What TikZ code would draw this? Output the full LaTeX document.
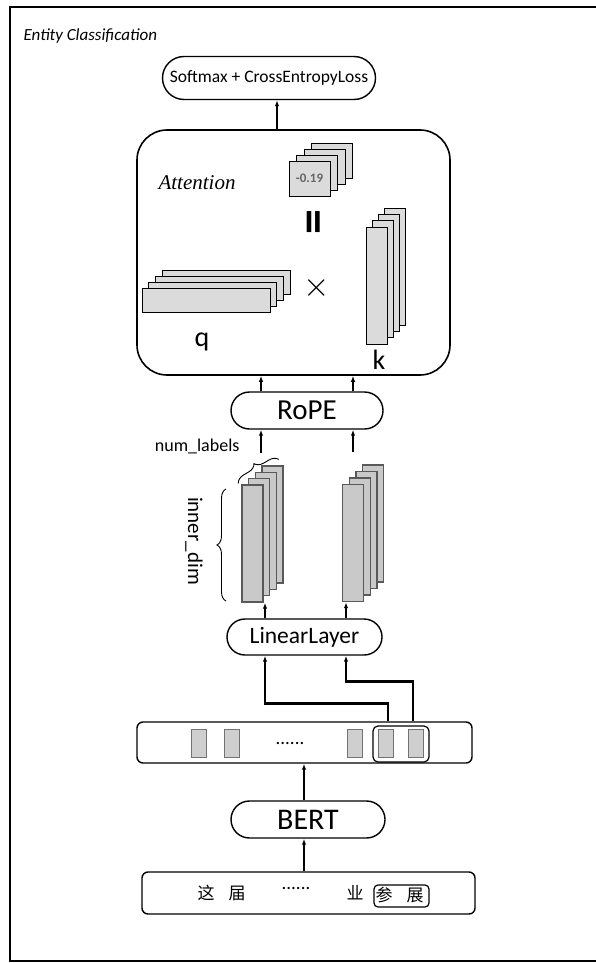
\documentclass[tikz,border=0pt]{standalone}
\usepackage{fontspec}
\setmainfont{Carlito}
\newfontfamily\cjkfont{Noto Sans CJK SC}
\newfontfamily\timesfont{Liberation Serif}
\usetikzlibrary{shapes.misc,arrows.meta,decorations.pathreplacing,calc}

\begin{document}
\begin{tikzpicture}[x=1pt,y=-1pt,
    >={Latex[length=6pt,width=4.5pt]},
    pill/.style={draw, line width=1.4pt, rounded rectangle, inner sep=0pt},
    panel/.style={draw, line width=1.4pt, rounded corners=6pt, inner sep=0pt},
    sheet/.style={draw, line width=1pt, fill=gray!28, inner sep=0pt},
    slab/.style={draw=black!65, line width=1.4pt, fill=gray!42, inner sep=0pt, minimum width=21pt, minimum height=117pt},
    tok/.style={draw=black!55, line width=1pt, fill=gray!38, inner sep=0pt, minimum width=15pt, minimum height=28pt},
    hanzi/.style={font=\cjkfont\fontsize{17}{17}\selectfont},
    link/.style={->, line width=1.3pt},
    feed/.style={->, line width=2.4pt},
    brc/.style={decorate, decoration={brace, amplitude=9pt}, line width=0.9pt}]
  \useasboundingbox (0,0) rectangle (595,963);
  \draw[line width=2pt] (600,7) -- (10,7) -- (10,961) -- (600,961);

  \node[anchor=west, font=\itshape\fontsize{17}{19}\selectfont] (title) at (20,36) {Entity Classification};
  \node[pill, minimum width=213pt, minimum height=43pt, font=\fontsize{17.5}{19}\selectfont] (loss) at (269,78) {Softmax + CrossEntropyLoss};

  % attention block
  \node[draw, line width=1.6pt, rounded corners=30pt, minimum width=313pt, minimum height=245pt] (attn) at (293.5,252.5) {};
  \draw[link] ($(attn.north)+(-16.5,0)$) -- ($(loss.south)+(8,0)$);
  \node[font=\timesfont\itshape\fontsize{21}{24}\selectfont] (attnlabel) at (197,183) {Attention};
  \foreach \i in {3,2,1}
    \node[sheet, minimum width=41pt, minimum height=35pt] (s\i) at (309.5+7.5*\i,178.5-6*\i) {};
  \node[sheet, minimum width=41pt, minimum height=35pt, font=\bfseries\fontsize{13}{14}\selectfont, text=black!60] (s0) at (309.5,178.5) {-0.19};
  \node[rotate=90, font=\bfseries\fontsize{50}{50}\selectfont] (eq) at (318,222) {=};
  \foreach \i in {3,2,1}
    \node[sheet, minimum width=128pt, minimum height=24pt] (q\i) at (206+6.7*\i,300-6*\i) {};
  \node[sheet, minimum width=128pt, minimum height=24pt] (q0) at (206,300) {};
  \node[scale=3.4] (times) at (317,288) {$\times$};
  \foreach \i in {3,2,1}
    \node[sheet, minimum width=21pt, minimum height=117pt] (k\i) at (376.5+6.3*\i,285.5-6.3*\i) {};
  \node[sheet, minimum width=21pt, minimum height=117pt] (k0) at (376.5,285.5) {};
  \node[font=\fontsize{28}{28}\selectfont] (qlabel) at (202,342) {q};
  \node[font=\fontsize{28}{28}\selectfont] (klabel) at (379,360) {k};

  \coordinate (lcol) at (261,0);
  \coordinate (rcol) at (353,0);
  \coordinate (llow) at (265,0);
  \coordinate (rlow) at (346,0);
  \coordinate (mid) at (304,0);

  \node[pill, minimum width=152pt, minimum height=37pt, font=\fontsize{29}{29}\selectfont] (rope) at (307,410.5) {RoPE};
  \draw[link] (rope.north -| lcol) -- (attn.south -| lcol);
  \draw[link] (rope.north -| rcol) -- (attn.south -| rcol);

  % projected heads
  \foreach \i in {3,2,1}
    \node[slab] (l\i) at (252.5+6.7*\i,543.5-6.3*\i) {};
  \node[slab] (l0) at (252.5,543.5) {};
  \foreach \i in {3,2,1}
    \node[slab] (r\i) at (353+6.7*\i,543-6.5*\i) {};
  \node[slab] (r0) at (353,543) {};
  \draw[link] ($(l3.north -| lcol)+(0,-12)$) -- (rope.south -| lcol);
  \draw[link] ($(r3.north -| rcol)+(0,-12)$) -- (rope.south -| rcol);
  \draw[brc] ($(l0.north west)+(-3,-1)$) -- ($(l3.north east)+(-5,-6)$);
  \node[anchor=east, font=\fontsize{18}{20}\selectfont] (numlabels) at (243,446) {num\_labels};
  \draw[brc] (226,601) -- (226,489);
  \node[rotate=-90, font=\fontsize{21}{23}\selectfont] (innerdim) at (194,541) {inner\_dim};

  \node[pill, minimum width=155pt, minimum height=36pt, font=\fontsize{23.5}{25}\selectfont] (linear) at (304.5,637) {LinearLayer};
  \draw[link] (linear.north -| llow) -- (l0.south -| llow);
  \draw[link] (linear.north -| rlow) -- (r0.south -| rlow);

  % token vectors
  \node[panel, minimum width=335pt, minimum height=41pt] (seq) at (304.5,742.5) {};
  \node[tok] (t1) at (198.5,743) {};
  \node[tok] (t2) at (231.5,743) {};
  \node[font=\fontsize{19}{19}\selectfont] (seqdots) at (290,743) {......};
  \node[tok] (t3) at (355,743) {};
  \node[panel, rounded corners=5pt, line width=1.2pt, minimum width=56pt, minimum height=36pt] (pair) at (401,744) {};
  \node[tok] (t4) at (385.5,743) {};
  \node[tok] (t5) at (416,743) {};
  \draw[feed] ($(t4 |- seq.north)+(2.5,0)$) -- ++(0,-18) -| (linear.south -| llow);
  \draw[feed] ($(t5 |- seq.north)+(-3,0)$) -- ++(0,-40) -| (linear.south -| rlow);

  \node[pill, minimum width=154pt, minimum height=37pt, font=\fontsize{30}{30}\selectfont] (bert) at (308,819.5) {BERT};
  \draw[feed, line width=1.8pt] (bert.north -| mid) -- (seq.south -| mid);

  % input sentence
  \node[panel, minimum width=333pt, minimum height=42pt] (sent) at (308.5,893) {};
  \node[hanzi] (c1) at (206,893) {这};
  \node[hanzi] (c2) at (237,893) {届};
  \node[font=\fontsize{19}{19}\selectfont] (sentdots) at (296,888) {......};
  \node[hanzi] (c3) at (355,893) {业};
  \node[panel, rounded corners=4pt, line width=1.2pt, minimum width=55pt, minimum height=22pt] (span) at (401.5,896) {};
  \node[hanzi] (c4) at (384,895) {参};
  \node[hanzi] (c5) at (415,895) {展};
  \draw[feed, line width=1.8pt] (sent.north -| mid) -- (bert.south -| mid);
\end{tikzpicture}
\end{document}
